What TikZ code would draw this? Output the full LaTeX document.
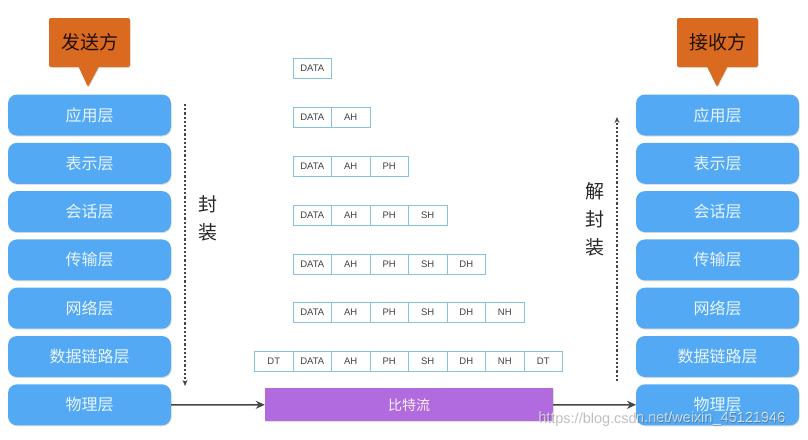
\documentclass[tikz,border=0pt]{standalone}
\usepackage{fontspec}
\setmainfont{Liberation Sans}
\newfontfamily\cjk{Noto Sans CJK SC}
\usepackage{tikz}
\usetikzlibrary{positioning}
\usetikzlibrary{shapes.callouts}
\usetikzlibrary{arrows.meta}
\usetikzlibrary{shadows}

\definecolor{layerblue}{HTML}{53A9F4}
\definecolor{calloutorange}{HTML}{D96A20}
\definecolor{cellblue}{HTML}{86C1E3}
\definecolor{bitpurple}{HTML}{B16BDE}
\definecolor{arrowgray}{HTML}{454545}

\begin{document}
\begin{tikzpicture}[
            x=1pt, y=-1pt,
            node distance=7.3pt,
            layerbox/.style={rectangle, rounded corners=9pt, fill=layerblue, minimum width=163pt, minimum height=41pt,
                outer sep=0pt, text=white!88!layerblue, font=\cjk\fontsize{16}{16}\selectfont,
                drop shadow={opacity=0.25, shadow xshift=0.6pt, shadow yshift=-1pt}},
            rolecallout/.style={rectangle callout, rounded corners=2pt, fill=calloutorange, minimum width=81pt, minimum height=49pt,
                callout pointer width=20pt, text=black!85!calloutorange, font=\cjk\fontsize{19}{19}\selectfont,
                drop shadow={opacity=0.25, shadow xshift=0.6pt, shadow yshift=-1pt}},
            cell/.style={rectangle, draw=cellblue, line width=1pt, minimum width=38.5pt, minimum height=20pt, inner sep=0pt,
                outer sep=0pt, text=black!75, font=\fontsize{9.5}{9.5}\selectfont},
            stepnote/.style={align=center, text=black!85, font=\cjk\fontsize{19}{28}\selectfont},
            flowarrow/.style={draw=arrowgray, line width=1.5pt, -{Stealth[length=9pt, width=8pt]}},
            dotarrow/.style={draw=arrowgray, line width=1.3pt, dash pattern=on 2.2pt off 2pt, -{Stealth[length=6pt, width=5pt]}},
        ]
        \useasboundingbox (0,0) rectangle (808,439);

        % Sender layers.
        \node[layerbox] (s_app)                      at (89.5,115) {应用层};
        \node[layerbox] (s_pre)  [below=of s_app]    {表示层};
        \node[layerbox] (s_ses)  [below=of s_pre]    {会话层};
        \node[layerbox] (s_tra)  [below=of s_ses]    {传输层};
        \node[layerbox] (s_net)  [below=of s_tra]    {网络层};
        \node[layerbox] (s_dat)  [below=of s_net]    {数据链路层};
        \node[layerbox] (s_phy)  [below=of s_dat]    {物理层};

        % Receiver layers.
        \node[layerbox] (r_app)                      at (717.5,115) {应用层};
        \node[layerbox] (r_pre)  [below=of r_app]    {表示层};
        \node[layerbox] (r_ses)  [below=of r_pre]    {会话层};
        \node[layerbox] (r_tra)  [below=of r_ses]    {传输层};
        \node[layerbox] (r_net)  [below=of r_tra]    {网络层};
        \node[layerbox] (r_dat)  [below=of r_net]    {数据链路层};
        \node[layerbox] (r_phy)  [below=of r_dat]    {物理层};

        % Callouts.
        \node[rolecallout, callout absolute pointer={(88,87)}]  (sender)   at (89.5,42.5)  {发送方};
        \node[rolecallout, callout absolute pointer={(717,87)}] (receiver) at (717.5,42.5) {接收方};

        % Packets.
        \node[cell] (p1_data)                        at (312.25,68)  {DATA};

        \node[cell] (p2_data)                        at (312.25,117) {DATA};
        \node[cell] (p2_ah)   [right=0pt of p2_data] {AH};

        \node[cell] (p3_data)                        at (312.25,166) {DATA};
        \node[cell] (p3_ah)   [right=0pt of p3_data] {AH};
        \node[cell] (p3_ph)   [right=0pt of p3_ah]   {PH};

        \node[cell] (p4_data)                        at (312.25,215) {DATA};
        \node[cell] (p4_ah)   [right=0pt of p4_data] {AH};
        \node[cell] (p4_ph)   [right=0pt of p4_ah]   {PH};
        \node[cell] (p4_sh)   [right=0pt of p4_ph]   {SH};

        \node[cell] (p5_data)                        at (312.25,264) {DATA};
        \node[cell] (p5_ah)   [right=0pt of p5_data] {AH};
        \node[cell] (p5_ph)   [right=0pt of p5_ah]   {PH};
        \node[cell] (p5_sh)   [right=0pt of p5_ph]   {SH};
        \node[cell] (p5_dh)   [right=0pt of p5_sh]   {DH};

        \node[cell] (p6_data)                        at (312.25,312) {DATA};
        \node[cell] (p6_ah)   [right=0pt of p6_data] {AH};
        \node[cell] (p6_ph)   [right=0pt of p6_ah]   {PH};
        \node[cell] (p6_sh)   [right=0pt of p6_ph]   {SH};
        \node[cell] (p6_dh)   [right=0pt of p6_sh]   {DH};
        \node[cell] (p6_nh)   [right=0pt of p6_dh]   {NH};

        \node[cell] (p7_data)                        at (312.25,361) {DATA};
        \node[cell] (p7_dt)   [left=0pt of p7_data]  {DT};
        \node[cell] (p7_ah)   [right=0pt of p7_data] {AH};
        \node[cell] (p7_ph)   [right=0pt of p7_ah]   {PH};
        \node[cell] (p7_sh)   [right=0pt of p7_ph]   {SH};
        \node[cell] (p7_dh)   [right=0pt of p7_sh]   {DH};
        \node[cell] (p7_nh)   [right=0pt of p7_dh]   {NH};
        \node[cell] (p7_dt2)  [right=0pt of p7_nh]   {DT};

        % Bit stream.
        \node[rectangle, fill=bitpurple, minimum width=288pt, minimum height=33pt, text=white!90!bitpurple,
              font=\cjk\fontsize{14}{14}\selectfont,
              drop shadow={opacity=0.25, shadow xshift=0.6pt, shadow yshift=-1pt}] (bits) at (409,404.8) {比特流};

        % Encapsulation notes.
        \coordinate (enc_top) at (185,104);
        \coordinate (enc_bot) at (185,386);
        \coordinate (dec_bot) at (617,381);
        \coordinate (dec_top) at (617,117);
        \node[stepnote] (enc_note) at (208,218) {封\\装};
        \node[stepnote] (dec_note) at (595,219) {解\\封\\装};

        % Lines.
        \draw[dotarrow] (enc_top) -- (enc_bot);
        \draw[dotarrow] (dec_bot) -- (dec_top);
        \draw[flowarrow] (s_phy.east) -- (bits.west);
        \draw[flowarrow] (bits.east) -- (r_phy.west);

        % Watermark.
        \node[text=white, opacity=0.85, font=\fontsize{14.5}{14.5}\selectfont] (mark) at (662,419) {https://blog.csdn.net/weixin\_45121946};
        \node[text=black, opacity=0.25, font=\fontsize{14.5}{14.5}\selectfont] (mark_shade) at (662.6,419.6) {https://blog.csdn.net/weixin\_45121946};
    \end{tikzpicture}
\end{document}
